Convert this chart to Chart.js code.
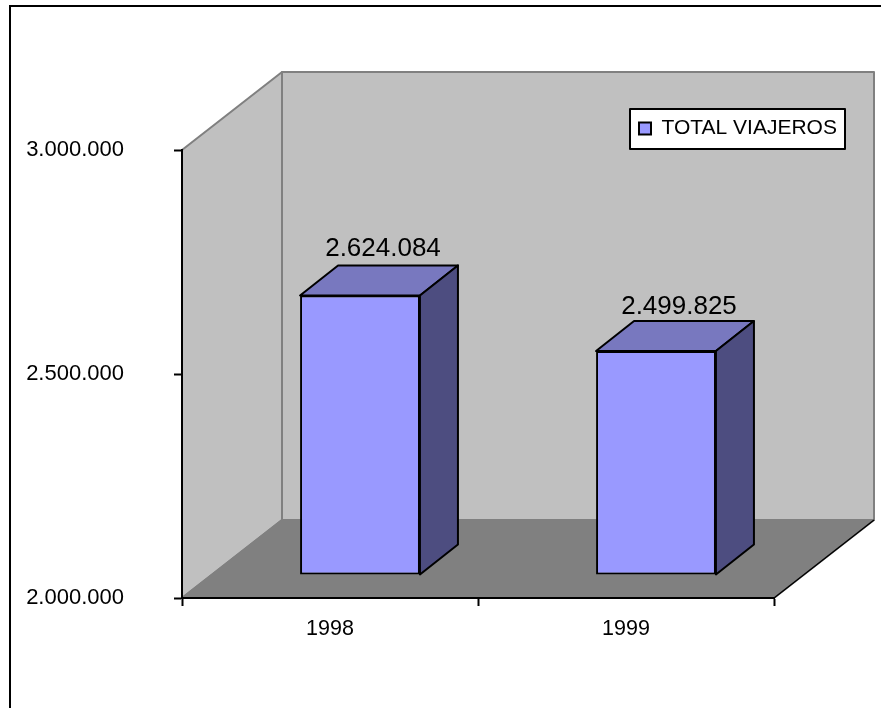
<!DOCTYPE html>
<html>
<head>
<meta charset="utf-8">
<title>Total viajeros</title>
<style>
  html, body { margin: 0; padding: 0; background: #fff; }
  canvas { display: block; }
</style>
</head>
<body>
<canvas id="ChartViajeros" width="881" height="708"></canvas>
<script src="https://cdn.jsdelivr.net/npm/chart.js@4"></script>
<script>
const years = ['1998', '1999'];
const totalViajeros = [2624084, 2499825];
const seriesName = 'TOTAL VIAJEROS';
const axisMin = 2000000;
const axisMax = 3000000;
const axisStep = 500000;

const fontName = '"Liberation Sans", Arial, sans-serif';

// how far the back of the 3d box sits from the front
const depthX = 100;
const depthY = 78;
// where the bars stand inside that depth
const barFrontX = 30;
const barFrontY = 23;
const barSideX = 38;
const barSideY = 30;
// value labels over the bars, px above the front top edge
const labelLift = [47, 44];

function dots(v) {
  return String(v).replace(/\B(?=(\d{3})+$)/g, '.');
}

function poly(ctx, pts, fill, stroke, width) {
  ctx.beginPath();
  pts.forEach((p, i) => i ? ctx.lineTo(p[0], p[1]) : ctx.moveTo(p[0], p[1]));
  ctx.closePath();
  if (fill) { ctx.fillStyle = fill; ctx.fill(); }
  if (stroke) { ctx.strokeStyle = stroke; ctx.lineWidth = width; ctx.lineJoin = 'round'; ctx.stroke(); }
}

const box3d = {
  id: 'box3d',
  afterLayout(chart) {
    // legend sits on the back wall
    const lg = chart.legend;
    lg.left = 630; lg.top = 109; lg.right = 845; lg.bottom = 149;
    lg.width = 215; lg.height = 40;
  },
  beforeDraw(chart) {
    const ctx = chart.ctx;
    const a = chart.chartArea;
    ctx.save();
    ctx.fillStyle = '#fff';
    ctx.fillRect(0, 0, chart.width, chart.height);
    ctx.strokeStyle = '#000';
    ctx.lineWidth = 2;
    ctx.strokeRect(10, 6, chart.width + 50, chart.height + 50);

    const l = a.left, r = a.right, t = a.top, b = a.bottom;
    poly(ctx, [[l, b], [l + depthX, b - depthY], [l + depthX, t - depthY], [l, t]], '#c0c0c0', '#808080', 2);
    poly(ctx, [[l + depthX, b - depthY], [r + depthX, b - depthY], [r + depthX, t - depthY], [l + depthX, t - depthY]], '#c0c0c0', '#808080', 2);
    poly(ctx, [[l, b], [r, b], [r + depthX, b - depthY], [l + depthX, b - depthY]], '#808080', '#808080', 2);
    // right edge of the floor is black
    ctx.beginPath();
    ctx.moveTo(r, b);
    ctx.lineTo(r + depthX, b - depthY);
    ctx.strokeStyle = '#000';
    ctx.lineWidth = 1.5;
    ctx.stroke();

    // legend box
    const lg = chart.legend;
    ctx.fillStyle = '#fff';
    ctx.fillRect(lg.left, lg.top, lg.width, lg.height);
    ctx.strokeStyle = '#000';
    ctx.lineWidth = 2;
    ctx.strokeRect(lg.left, lg.top, lg.width, lg.height);
    ctx.restore();
  },
  beforeDatasetsDraw(chart) {
    // front faces of the bars stand a bit inside the box
    const ctx = chart.ctx;
    chart.getDatasetMeta(0).data.forEach((bar) => {
      const p = bar.getProps(['x', 'y', 'base', 'width'], true);
      const x0 = p.x - p.width / 2 + barFrontX;
      const x1 = p.x + p.width / 2 + barFrontX;
      const top = p.y - barFrontY;
      const bottom = p.base - barFrontY;
      poly(ctx, [[x0, top], [x1, top], [x1 + barSideX, top - barSideY], [x0 + barSideX, top - barSideY]], '#7878bf', '#000', 2);
      poly(ctx, [[x1, top], [x1 + barSideX, top - barSideY], [x1 + barSideX, bottom - barSideY], [x1, bottom]], '#4d4d80', '#000', 2);
    });
    ctx.save();
    ctx.translate(barFrontX, -barFrontY);
  },
  afterDatasetsDraw(chart) {
    const ctx = chart.ctx;
    ctx.restore();
    ctx.save();
    ctx.fillStyle = '#000';
    ctx.font = '26px ' + fontName;
    ctx.textAlign = 'center';
    ctx.textBaseline = 'middle';
    chart.getDatasetMeta(0).data.forEach((bar, i) => {
      const p = bar.getProps(['x', 'y'], true);
      ctx.fillText(dots(totalViajeros[i]), p.x + barFrontX + 23, p.y - barFrontY - labelLift[i]);
    });
    ctx.restore();
  }
};

const config_viajeros = {
  type: 'bar',
  data: {
    labels: years,
    datasets: [
      {
        label: seriesName,
        data: totalViajeros,
        base: axisMin,
        backgroundColor: '#9999ff',
        borderColor: '#000',
        borderWidth: 2,
        borderSkipped: false,
        clip: false,
        categoryPercentage: 0.405,
        barPercentage: 1
      }
    ]
  },
  plugins: [box3d],
  options: {
    responsive: false,
    animation: false,
    layout: { padding: { left: 0, top: 150, right: 107, bottom: 0 } },
    plugins: {
      title: { display: false },
      tooltip: { enabled: false },
      legend: {
        display: true,
        position: 'chartArea',
        align: 'start',
        labels: {
          color: '#000',
          font: { family: fontName, size: 21 },
          boxWidth: 12,
          boxHeight: 12,
          padding: 9
        }
      }
    },
    scales: {
      x: {
        afterFit(s) { s.height = 110; },
        border: { color: '#000', width: 2 },
        grid: { drawOnChartArea: false, color: '#000', tickLength: 8, tickWidth: 2 },
        ticks: { color: '#000', padding: 10, font: { family: fontName, size: 21.5 } }
      },
      y: {
        min: axisMin,
        max: axisMax,
        afterFit(s) { s.width = 182; },
        border: { color: '#000', width: 2 },
        grid: { drawOnChartArea: false, color: '#000', tickLength: 8, tickWidth: 2 },
        ticks: {
          stepSize: axisStep,
          color: '#000',
          padding: 50,
          font: { family: fontName, size: 22 },
          callback: (v) => dots(v)
        }
      }
    }
  }
};

const ChartViajeros = new Chart(document.getElementById('ChartViajeros'), config_viajeros);
</script>
</body>
</html>
